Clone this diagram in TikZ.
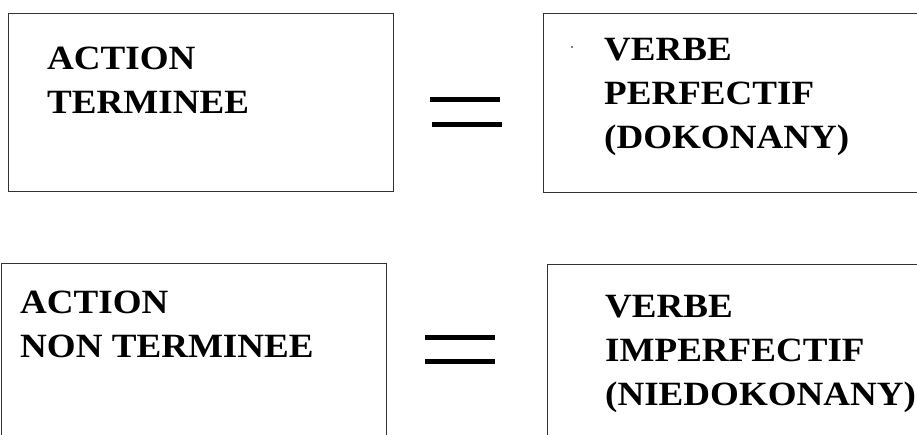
\documentclass[tikz,border=0pt]{standalone}
\usepackage{fontspec}
\setmainfont{Liberation Serif}
\newfontfamily\boxfont[FakeStretch=1.09]{Liberation Serif}
\usetikzlibrary{positioning}

\begin{document}
\begin{tikzpicture}[
    x=1pt, y=1pt,
    box/.style={draw=black!80, line width=1.3pt, anchor=north west, inner sep=0pt},
    txt/.style={inner sep=0pt, align=left,
                font=\boxfont\bfseries\fontsize{34}{43.8}\selectfont},
    bar/.style={line width=5pt}
]
\useasboundingbox (0,0) rectangle (917,-435);
\clip (0,0) rectangle (917,-435);

% ── Top row ──
\node[box, minimum width=385pt, minimum height=178pt] (done) at (8,-13) {};
\node[box, minimum width=420pt, minimum height=179pt] (perf) at (543,-13) {};

\node[txt, below right=34pt and 39pt of done.north west] (donetxt) {ACTION\\TERMINEE};
\node[txt, below right=25pt and 61pt of perf.north west] (perftxt) {VERBE\\PERFECTIF\\(DOKONANY)};
\fill (572,-47) circle (0.9pt);

\coordinate (eqtop) at (430,-100);
\draw[bar] (eqtop) -- ++(70,0);
\draw[bar] ([shift={(2,-25)}]eqtop) -- ++(70,0);

% ── Bottom row ──
\node[box, minimum width=385pt, minimum height=200pt] (notdone) at (1,-263) {};
\node[box, minimum width=420pt, minimum height=200pt] (imperf) at (547,-264) {};

\node[txt, below right=28pt and 19pt of notdone.north west] (notdonetxt) {ACTION\\NON TERMINEE};
\node[txt, below right=31pt and 58pt of imperf.north west] (imperftxt) {VERBE\\IMPERFECTIF\\(NIEDOKONANY)};

\coordinate (eqbot) at (425,-337);
\draw[bar] (eqbot) -- ++(70,0);
\draw[bar] ([yshift=-24pt]eqbot) -- ++(70,0);

\end{tikzpicture}
\end{document}
